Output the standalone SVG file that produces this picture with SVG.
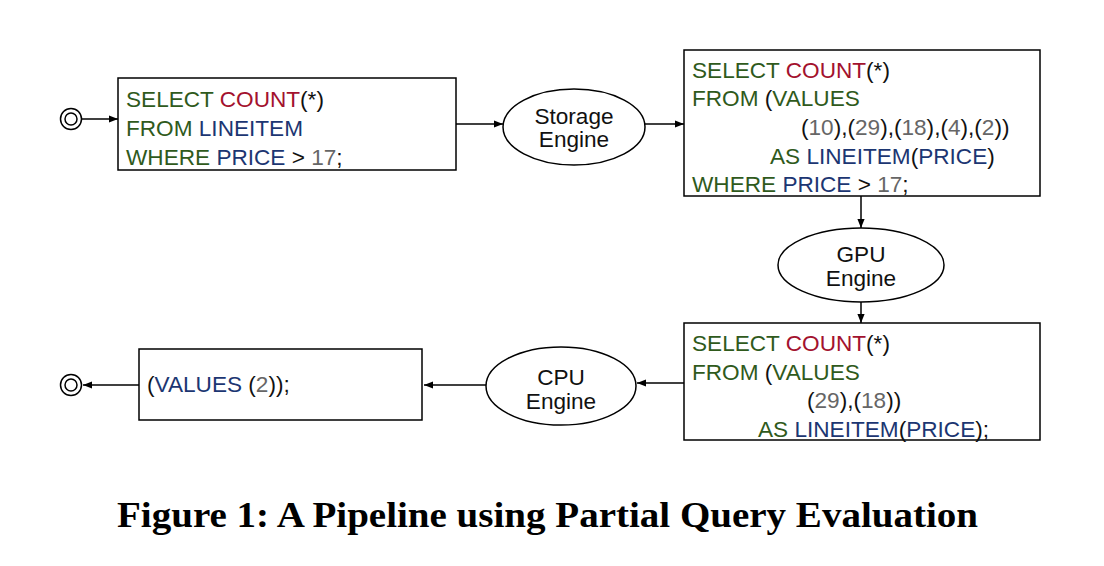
<svg xmlns="http://www.w3.org/2000/svg" width="1104" height="566" viewBox="0 0 1104 566">
<style>
.box{fill:#fff;stroke:#000;stroke-width:1.5}
.ell{fill:#fff;stroke:#000;stroke-width:1.5}
.t{font-family:"Liberation Sans",Arial,sans-serif;font-size:22.6px;fill:#111}
.c{text-anchor:middle}
.k{fill:#2f5a1c}
.f{fill:#a3122e}
.i{fill:#1c3672}
.n{fill:#666}
.edge{stroke:#000;stroke-width:1.5;fill:none;marker-end:url(#ah)}
.cap{font-family:"Liberation Serif","Times New Roman",serif;font-weight:bold;font-size:35px;fill:#000}
</style>
<defs>
<marker id="ah" viewBox="0 0 10 10" refX="10" refY="5" markerWidth="11" markerHeight="9" markerUnits="userSpaceOnUse" orient="auto">
<path d="M0,1 L10,5 L0,9 z" fill="#000"/>
</marker>
</defs>
<g id="connectors">
<line class="edge" x1="82" y1="119" x2="118" y2="119"/>
<line class="edge" x1="456" y1="124" x2="503" y2="124"/>
<line class="edge" x1="645" y1="124" x2="684" y2="124"/>
<line class="edge" x1="861" y1="196" x2="861" y2="228"/>
<line class="edge" x1="861" y1="302" x2="861" y2="323"/>
<line class="edge" x1="684" y1="383" x2="637" y2="383"/>
<line class="edge" x1="486" y1="385" x2="424" y2="385"/>
<line class="edge" x1="139" y1="385" x2="83" y2="385"/>
</g>
<g id="start">
<circle cx="71" cy="119" r="10.5" fill="#fff" stroke="#000" stroke-width="1.5"/>
<circle cx="71" cy="119" r="6" fill="none" stroke="#000" stroke-width="1.5"/>
</g>
<g id="query1">
<rect class="box" x="118" y="78" width="338" height="92"/>
<text class="t" x="126" y="107"><tspan class="k">SELECT </tspan><tspan class="f">COUNT</tspan>(*)</text>
<text class="t" x="126" y="136"><tspan class="k">FROM </tspan><tspan class="i">LINEITEM</tspan></text>
<text class="t" x="126" y="165"><tspan class="k">WHERE </tspan><tspan class="i">PRICE</tspan> &gt; <tspan class="n">17</tspan>;</text>
</g>
<g id="storage">
<ellipse class="ell" cx="574" cy="127" rx="71" ry="38"/>
<text class="t c" x="574" y="124">Storage</text>
<text class="t c" x="574" y="147">Engine</text>
</g>
<g id="query2">
<rect class="box" x="684" y="50" width="356" height="146"/>
<text class="t" x="692" y="78"><tspan class="k">SELECT </tspan><tspan class="f">COUNT</tspan>(*)</text>
<text class="t" x="692" y="106"><tspan class="k">FROM </tspan>(<tspan class="k">VALUES</tspan></text>
<text class="t" x="801" y="135">(<tspan class="n">10</tspan>),(<tspan class="n">29</tspan>),(<tspan class="n">18</tspan>),(<tspan class="n">4</tspan>),(<tspan class="n">2</tspan>))</text>
<text class="t" x="770" y="164"><tspan class="k">AS </tspan><tspan class="i">LINEITEM</tspan>(<tspan class="i">PRICE</tspan>)</text>
<text class="t" x="692" y="192"><tspan class="k">WHERE </tspan><tspan class="i">PRICE</tspan> &gt; <tspan class="n">17</tspan>;</text>
</g>
<g id="gpu">
<ellipse class="ell" cx="861" cy="265" rx="83" ry="37"/>
<text class="t c" x="861" y="262">GPU</text>
<text class="t c" x="861" y="286">Engine</text>
</g>
<g id="query3">
<rect class="box" x="684" y="323" width="356" height="117"/>
<text class="t" x="692" y="351"><tspan class="k">SELECT </tspan><tspan class="f">COUNT</tspan>(*)</text>
<text class="t" x="692" y="380"><tspan class="k">FROM </tspan>(<tspan class="k">VALUES</tspan></text>
<text class="t" x="807" y="408">(<tspan class="n">29</tspan>),(<tspan class="n">18</tspan>))</text>
<text class="t" x="758" y="437"><tspan class="k">AS </tspan><tspan class="i">LINEITEM</tspan>(<tspan class="i">PRICE</tspan>);</text>
</g>
<g id="cpu">
<ellipse class="ell" cx="561" cy="386" rx="75" ry="39"/>
<text class="t c" x="561" y="385">CPU</text>
<text class="t c" x="561" y="409">Engine</text>
</g>
<g id="result">
<rect class="box" x="139" y="349" width="283" height="71"/>
<text class="t" x="147" y="392">(<tspan class="i">VALUES</tspan> (<tspan class="n">2</tspan>));</text>
</g>
<g id="end">
<circle cx="71" cy="385" r="10.5" fill="#fff" stroke="#000" stroke-width="1.5"/>
<circle cx="71" cy="385" r="6" fill="none" stroke="#000" stroke-width="1.5"/>
</g>
<text class="cap" x="117" y="527" textLength="861" lengthAdjust="spacingAndGlyphs">Figure 1: A Pipeline using Partial Query Evaluation</text>
</svg>
